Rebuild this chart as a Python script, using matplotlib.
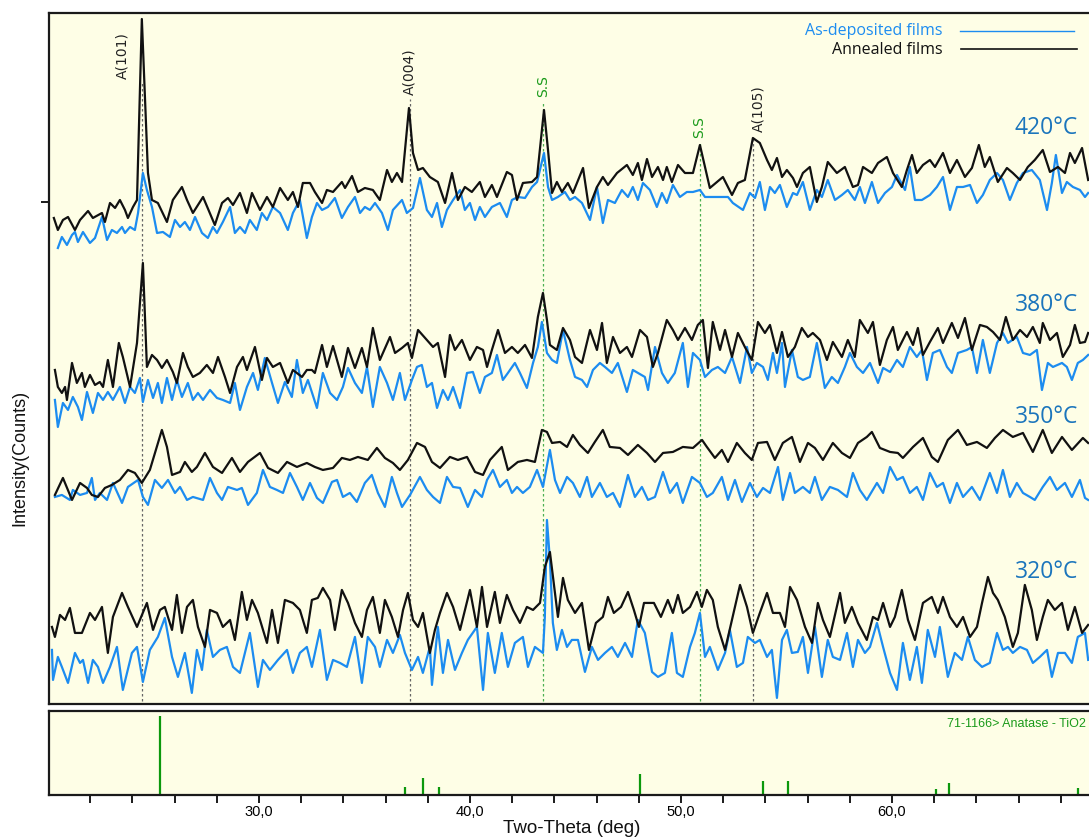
"""XRD patterns of as-deposited and annealed TiO2 films.

Four deposition temperatures, stacked, with the anatase reference card below.
"""

from matplotlib import pyplot
from matplotlib.ticker import FixedLocator, FuncFormatter

# Patterns: two-theta (deg) and stacked intensity (counts).
# 420 C
tt_420_ann = [20.28, 20.47, 20.71, 20.95, 21.28, 21.52, 21.90, 22.13, 22.56, 22.70, 22.94, 23.18, 23.41, 23.65,
              23.79, 24.03, 24.22, 24.45, 24.60, 24.74, 24.93, 25.21, 25.64, 25.92, 26.35, 26.59, 26.87, 27.35,
              27.91, 28.25, 28.53, 28.77, 29.10, 29.43, 29.67, 30.05, 30.38, 30.66, 31.00, 31.37, 31.61, 31.85,
              32.08, 32.42, 32.65, 32.99, 33.22, 33.51, 33.93, 34.08, 34.41, 34.69, 35.02, 35.40, 35.73, 36.07,
              36.30, 36.54, 36.78, 37.11, 37.30, 37.54, 37.77, 38.10, 38.48, 38.82, 39.15, 39.43, 39.76, 40.09,
              40.47, 40.71, 41.04, 41.28, 41.75, 41.99, 42.23, 42.51, 42.94, 43.18, 43.51, 43.70, 43.89, 44.12,
              44.36, 44.64, 44.88, 45.36, 45.64, 46.02, 46.30, 46.54, 46.97, 47.44, 47.72, 47.96, 48.15, 48.39,
              48.63, 48.91, 49.15, 49.33, 49.57, 49.86, 50.19, 50.57, 50.90, 51.14, 51.37, 51.71, 51.99, 52.42,
              52.70, 53.03, 53.41, 53.74, 54.08, 54.31, 54.55, 54.79, 55.02, 55.31, 55.50, 55.78, 56.11, 56.44,
              56.68, 56.96, 57.39, 57.77, 58.15, 58.39, 58.63, 59.05, 59.34, 59.76, 60.05, 60.47, 60.71, 60.95,
              61.18, 61.47, 61.80, 62.04, 62.42, 62.75, 63.08, 63.46, 63.79, 64.12, 64.40, 64.64, 65.02, 65.45,
              65.73, 66.07, 66.44, 66.77, 67.15, 67.49, 67.87, 68.20, 68.44, 68.67, 69.01, 69.30]
i_420_ann = [486, 474, 484, 487, 474, 484, 493, 486, 491, 482, 501, 496, 504, 494,
             486, 497, 504, 685, 604, 531, 504, 501, 482, 504, 517, 504, 491, 507,
             479, 501, 506, 499, 511, 491, 511, 494, 507, 497, 516, 504, 512, 497,
             521, 521, 512, 501, 514, 512, 522, 516, 528, 512, 516, 514, 504, 534,
             522, 531, 522, 596, 551, 534, 536, 527, 522, 501, 531, 504, 517, 512,
             522, 507, 519, 507, 532, 529, 504, 521, 522, 527, 594, 554, 511, 522,
             512, 521, 511, 536, 496, 517, 527, 519, 531, 539, 529, 541, 524, 545,
             527, 537, 524, 537, 522, 539, 531, 531, 559, 537, 516, 522, 527, 509,
             521, 524, 566, 561, 544, 534, 546, 527, 534, 526, 517, 531, 537, 502,
             517, 542, 531, 537, 517, 519, 537, 531, 541, 547, 531, 517, 534, 549,
             531, 539, 544, 537, 551, 531, 544, 527, 536, 559, 537, 547, 522, 536,
             531, 524, 537, 544, 554, 532, 537, 531, 551, 541, 556, 524]
tt_420_dep = [20.47, 20.66, 20.90, 21.14, 21.28, 21.42, 21.66, 21.99, 22.23, 22.56, 22.80, 23.03, 23.27, 23.51,
              23.65, 23.89, 24.12, 24.27, 24.50, 24.69, 24.93, 25.17, 25.45, 25.78, 26.02, 26.26, 26.49, 26.73,
              26.97, 27.30, 27.58, 27.82, 28.01, 28.29, 28.63, 28.86, 29.10, 29.34, 29.57, 29.90, 30.14, 30.38,
              30.66, 31.00, 31.37, 31.61, 31.94, 32.27, 32.51, 32.75, 32.99, 33.27, 33.60, 33.93, 34.22, 34.55,
              34.79, 35.02, 35.26, 35.50, 35.83, 36.11, 36.35, 36.78, 37.01, 37.30, 37.63, 37.96, 38.20, 38.44,
              38.67, 38.91, 39.20, 39.53, 39.76, 40.00, 40.24, 40.47, 40.71, 41.04, 41.42, 41.75, 41.99, 42.27,
              42.61, 42.94, 43.18, 43.51, 43.70, 43.89, 44.17, 44.50, 44.74, 44.98, 45.31, 45.69, 46.02, 46.30,
              46.54, 46.87, 47.20, 47.49, 47.72, 47.96, 48.20, 48.53, 48.86, 49.10, 49.33, 49.62, 49.95, 50.28,
              50.57, 50.90, 51.14, 51.47, 51.85, 52.23, 52.46, 52.94, 53.27, 53.51, 53.74, 53.98, 54.22, 54.45,
              54.69, 55.02, 55.31, 55.50, 55.78, 56.11, 56.44, 56.68, 56.96, 57.30, 57.63, 57.91, 58.24, 58.48,
              58.72, 59.05, 59.34, 59.67, 60.00, 60.24, 60.62, 60.85, 61.09, 61.42, 61.80, 62.13, 62.42, 62.75,
              63.08, 63.37, 63.70, 64.03, 64.31, 64.64, 64.98, 65.26, 65.59, 65.92, 66.21, 66.63, 67.01, 67.35,
              67.58, 67.77, 68.06, 68.29, 68.58, 68.91, 69.15, 69.30]
i_420_dep = [456, 467, 459, 469, 472, 462, 472, 461, 466, 487, 464, 474, 471, 477,
             471, 477, 474, 491, 531, 514, 497, 471, 472, 467, 484, 477, 482, 474,
             487, 471, 466, 477, 471, 482, 497, 471, 477, 471, 484, 474, 491, 484,
             497, 491, 474, 491, 504, 466, 487, 501, 494, 497, 506, 486, 497, 507,
             491, 497, 494, 501, 491, 474, 494, 504, 491, 496, 526, 494, 487, 501,
             477, 494, 504, 514, 494, 501, 484, 497, 487, 497, 501, 487, 504, 507,
             506, 517, 522, 551, 517, 504, 507, 512, 504, 507, 501, 484, 517, 481,
             504, 501, 514, 507, 517, 504, 521, 514, 497, 511, 501, 519, 507, 512,
             512, 514, 507, 507, 507, 507, 501, 494, 511, 506, 522, 494, 517, 511,
             519, 497, 511, 509, 522, 494, 514, 507, 524, 504, 509, 514, 504, 517,
             501, 522, 501, 511, 517, 529, 514, 537, 504, 504, 509, 517, 527, 494,
             517, 517, 519, 501, 509, 524, 531, 524, 504, 521, 531, 534, 524, 494,
             521, 549, 511, 522, 517, 514, 507, 511]

# 380 C
tt_380_ann = [20.33, 20.47, 20.66, 20.81, 20.90, 21.14, 21.37, 21.61, 21.75, 21.99, 22.23, 22.46, 22.61, 22.84,
              23.08, 23.36, 23.55, 23.89, 24.22, 24.50, 24.69, 24.93, 25.17, 25.40, 25.64, 25.92, 26.11, 26.40,
              26.63, 26.87, 27.20, 27.53, 27.82, 28.06, 28.39, 28.63, 28.96, 29.24, 29.43, 29.81, 30.14, 30.38,
              30.66, 31.00, 31.37, 31.61, 32.04, 32.27, 32.51, 32.65, 32.99, 33.22, 33.51, 33.93, 34.22, 34.55,
              34.88, 35.12, 35.40, 35.73, 36.21, 36.45, 36.78, 37.06, 37.25, 37.54, 37.96, 38.25, 38.48, 38.82,
              39.05, 39.29, 39.62, 40.00, 40.33, 40.62, 40.81, 41.04, 41.33, 41.66, 41.99, 42.27, 42.61, 42.94,
              43.22, 43.46, 43.65, 43.79, 44.12, 44.41, 44.74, 44.98, 45.31, 45.69, 46.02, 46.26, 46.49, 46.78,
              47.11, 47.44, 47.68, 48.06, 48.39, 48.67, 48.91, 49.33, 49.62, 49.86, 50.19, 50.52, 50.80, 51.04,
              51.28, 51.51, 51.85, 52.09, 52.42, 52.70, 53.03, 53.36, 53.65, 53.98, 54.22, 54.55, 54.79, 55.07,
              55.40, 55.73, 56.02, 56.25, 56.59, 56.92, 57.20, 57.63, 57.91, 58.24, 58.48, 58.86, 59.10, 59.43,
              59.76, 60.05, 60.28, 60.71, 61.00, 61.23, 61.47, 61.80, 62.18, 62.42, 62.84, 63.13, 63.46, 63.79,
              64.17, 64.50, 64.79, 65.12, 65.40, 65.73, 66.07, 66.40, 66.68, 67.01, 67.15, 67.49, 67.82, 68.10,
              68.44, 68.67, 68.91, 69.15, 69.30]
i_380_ann = [334, 317, 311, 317, 304, 341, 321, 331, 317, 329, 319, 322, 317, 344,
             317, 361, 347, 317, 361, 441, 337, 349, 344, 336, 344, 332, 321, 351,
             337, 327, 331, 339, 331, 347, 327, 311, 337, 347, 334, 357, 324, 346,
             337, 341, 321, 334, 327, 334, 334, 331, 359, 337, 358, 327, 356, 336,
             356, 337, 376, 344, 367, 351, 356, 361, 346, 374, 364, 357, 361, 327,
             369, 354, 364, 344, 357, 354, 337, 354, 374, 351, 357, 351, 359, 346,
             387, 411, 384, 359, 354, 376, 364, 347, 341, 374, 354, 381, 341, 367,
             351, 357, 347, 374, 367, 337, 351, 384, 374, 364, 376, 364, 379, 384,
             336, 382, 354, 374, 347, 371, 357, 344, 382, 371, 379, 351, 372, 347,
             357, 376, 367, 371, 364, 344, 362, 347, 364, 347, 384, 371, 382, 339,
             364, 377, 354, 372, 359, 376, 349, 362, 376, 361, 381, 366, 386, 354,
             379, 377, 372, 364, 387, 364, 374, 367, 377, 361, 381, 364, 371, 347,
             359, 379, 361, 362, 371]
tt_380_dep = [20.33, 20.47, 20.71, 20.95, 21.18, 21.42, 21.61, 21.85, 22.13, 22.37, 22.61, 22.84, 23.08, 23.41,
              23.65, 23.89, 24.12, 24.36, 24.50, 24.74, 24.98, 25.21, 25.40, 25.64, 25.88, 26.11, 26.35, 26.63,
              26.87, 27.11, 27.35, 27.68, 28.01, 28.29, 28.63, 28.86, 29.10, 29.43, 29.72, 29.95, 30.28, 30.62,
              30.90, 31.23, 31.56, 31.80, 32.08, 32.32, 32.75, 33.03, 33.37, 33.70, 33.98, 34.22, 34.55, 34.88,
              35.12, 35.40, 35.73, 36.07, 36.35, 36.68, 36.92, 37.25, 37.49, 37.72, 37.96, 38.20, 38.44, 38.72,
              38.96, 39.20, 39.53, 39.86, 40.14, 40.47, 40.71, 41.04, 41.28, 41.56, 41.80, 42.13, 42.37, 42.70,
              42.99, 43.22, 43.41, 43.65, 43.89, 44.12, 44.41, 44.74, 44.98, 45.31, 45.55, 45.83, 46.16, 46.40,
              46.73, 47.01, 47.44, 47.72, 47.96, 48.29, 48.44, 48.77, 49.10, 49.38, 49.71, 50.09, 50.33, 50.57,
              50.90, 51.14, 51.47, 51.75, 52.09, 52.42, 52.80, 53.13, 53.36, 53.60, 53.89, 54.12, 54.36, 54.55,
              54.79, 54.93, 55.26, 55.54, 55.78, 56.11, 56.44, 56.82, 57.15, 57.44, 57.77, 58.01, 58.34, 58.63,
              58.96, 59.34, 59.58, 59.91, 60.24, 60.52, 60.85, 61.18, 61.42, 61.66, 61.94, 62.27, 62.61, 62.84,
              63.13, 63.55, 63.79, 64.03, 64.31, 64.64, 64.98, 65.26, 65.50, 65.92, 66.21, 66.54, 66.87, 67.11,
              67.39, 67.63, 68.06, 68.29, 68.53, 68.81, 69.05, 69.30]
i_380_dep = [304, 277, 301, 294, 307, 297, 284, 312, 291, 311, 304, 312, 304, 317,
             301, 317, 311, 326, 302, 324, 306, 321, 301, 326, 304, 324, 307, 321,
             304, 311, 304, 314, 306, 304, 301, 321, 294, 317, 331, 314, 346, 321,
             301, 322, 307, 344, 311, 324, 296, 331, 311, 304, 317, 336, 321, 311,
             337, 297, 337, 321, 304, 331, 304, 324, 337, 339, 317, 321, 296, 314,
             304, 317, 296, 331, 332, 311, 327, 331, 349, 324, 331, 341, 331, 316,
             341, 357, 382, 351, 344, 341, 374, 344, 327, 324, 317, 334, 341, 337,
             331, 341, 312, 334, 331, 327, 314, 357, 331, 321, 331, 361, 317, 351,
             344, 327, 334, 337, 331, 347, 321, 357, 331, 341, 337, 324, 351, 331,
             361, 317, 354, 327, 324, 327, 361, 316, 327, 321, 337, 351, 337, 331,
             341, 321, 336, 332, 344, 337, 357, 347, 354, 324, 351, 354, 337, 331,
             351, 354, 357, 331, 364, 331, 361, 371, 361, 367, 351, 349, 354, 314,
             341, 337, 341, 337, 324, 341, 344, 349]

# 350 C
tt_350_ann = [20.33, 20.71, 21.14, 21.52, 21.85, 22.08, 22.37, 22.70, 23.03, 23.41, 23.79, 24.12, 24.45, 24.83,
              25.40, 25.64, 25.88, 26.26, 26.49, 26.82, 27.06, 27.44, 27.82, 28.25, 28.72, 29.10, 29.48, 30.05,
              30.43, 30.90, 31.33, 31.80, 32.27, 32.65, 33.03, 33.51, 33.93, 34.31, 34.69, 35.16, 35.59, 35.97,
              36.35, 36.68, 37.06, 37.49, 37.87, 38.20, 38.58, 39.05, 39.43, 39.86, 40.24, 40.62, 40.95, 41.51,
              41.80, 42.27, 42.70, 43.08, 43.41, 43.65, 43.89, 44.27, 44.60, 44.88, 45.21, 45.59, 45.92, 46.30,
              46.63, 47.11, 47.49, 47.96, 48.39, 48.77, 49.15, 49.62, 50.09, 50.57, 51.00, 51.23, 51.61, 51.94,
              52.23, 52.65, 53.03, 53.36, 53.65, 54.08, 54.45, 54.83, 55.26, 55.64, 56.02, 56.35, 56.73, 57.20,
              57.63, 58.01, 58.39, 58.81, 59.05, 59.43, 59.91, 60.28, 60.52, 61.00, 61.47, 61.89, 62.18, 62.65,
              63.13, 63.55, 64.03, 64.50, 64.88, 65.26, 65.73, 66.21, 66.68, 67.15, 67.58, 68.06, 68.53, 69.05,
              69.30]
i_350_ann = [209, 226, 204, 221, 216, 209, 207, 216, 219, 224, 234, 231, 221, 234,
             274, 257, 229, 232, 242, 232, 237, 251, 237, 231, 246, 232, 242, 251,
             236, 231, 242, 237, 241, 237, 234, 236, 246, 244, 247, 244, 256, 246,
             241, 234, 244, 261, 257, 242, 236, 247, 244, 247, 232, 229, 244, 257,
             234, 242, 244, 242, 274, 272, 261, 262, 257, 269, 259, 251, 262, 274,
             257, 256, 249, 259, 251, 242, 251, 252, 257, 256, 264, 257, 246, 254,
             242, 261, 251, 244, 261, 262, 244, 261, 267, 242, 261, 256, 244, 261,
             251, 246, 261, 267, 272, 256, 252, 251, 246, 257, 266, 247, 242, 264,
             274, 259, 262, 256, 266, 274, 267, 271, 252, 274, 251, 267, 254, 266,
             261]
tt_350_dep = [20.33, 20.66, 21.04, 21.18, 21.52, 21.85, 22.08, 22.23, 22.46, 22.80, 23.08, 23.51, 23.79, 24.27,
              24.50, 24.74, 25.07, 25.40, 25.69, 26.02, 26.26, 26.59, 26.87, 27.35, 27.68, 28.01, 28.25, 28.53,
              28.96, 29.19, 29.48, 29.90, 30.19, 30.52, 30.85, 31.14, 31.47, 31.80, 32.08, 32.42, 32.75, 33.03,
              33.46, 33.70, 33.98, 34.31, 34.64, 35.02, 35.35, 35.64, 35.97, 36.30, 36.54, 36.78, 37.16, 37.63,
              37.96, 38.25, 38.58, 38.91, 39.20, 39.53, 39.90, 40.24, 40.57, 40.81, 41.09, 41.42, 41.75, 41.99,
              42.23, 42.51, 42.84, 43.18, 43.46, 43.79, 44.03, 44.27, 44.60, 44.88, 45.21, 45.55, 45.78, 46.16,
              46.49, 46.78, 47.11, 47.49, 47.82, 48.15, 48.44, 48.77, 49.15, 49.48, 49.81, 50.09, 50.52, 50.90,
              51.23, 51.51, 51.94, 52.23, 52.56, 52.89, 53.27, 53.60, 53.89, 54.22, 54.60, 54.83, 55.17, 55.40,
              55.78, 56.11, 56.35, 56.68, 57.06, 57.44, 57.87, 58.15, 58.48, 58.81, 59.29, 59.58, 59.91, 60.24,
              60.52, 60.85, 61.18, 61.47, 61.80, 62.13, 62.42, 62.75, 63.08, 63.37, 63.79, 64.17, 64.64, 64.98,
              65.26, 65.59, 65.92, 66.21, 66.54, 66.77, 67.15, 67.49, 67.82, 68.20, 68.53, 68.91, 69.15, 69.30]
i_350_dep = [207, 209, 204, 214, 209, 211, 226, 204, 211, 204, 221, 201, 217, 224,
             207, 199, 224, 216, 224, 211, 217, 204, 207, 204, 226, 211, 204, 217,
             214, 216, 199, 211, 234, 217, 214, 211, 231, 217, 204, 221, 206, 201,
             222, 224, 207, 211, 202, 221, 229, 211, 197, 227, 211, 197, 209, 227,
             214, 207, 201, 227, 217, 216, 197, 214, 207, 224, 234, 217, 224, 211,
             217, 211, 217, 234, 217, 254, 224, 211, 227, 221, 207, 227, 207, 221,
             207, 211, 197, 229, 207, 217, 204, 207, 232, 211, 221, 201, 227, 221,
             207, 211, 227, 204, 224, 202, 221, 207, 216, 211, 237, 204, 231, 211,
             217, 211, 227, 204, 217, 214, 207, 231, 214, 204, 221, 211, 237, 224,
             227, 211, 217, 204, 231, 217, 221, 201, 221, 207, 217, 204, 231, 211,
             234, 207, 221, 211, 207, 204, 217, 227, 214, 221, 207, 224, 206, 204]

# 320 C
tt_320_ann = [20.19, 20.33, 20.57, 20.81, 21.04, 21.28, 21.61, 21.99, 22.23, 22.56, 22.84, 23.08, 23.51, 23.79,
              24.22, 24.69, 24.98, 25.31, 25.54, 25.88, 26.11, 26.35, 26.59, 26.87, 27.11, 27.44, 27.68, 28.01,
              28.29, 28.63, 28.86, 29.19, 29.43, 29.67, 29.95, 30.38, 30.62, 30.90, 31.23, 31.61, 31.94, 32.27,
              32.51, 32.79, 33.03, 33.37, 33.60, 33.93, 34.22, 34.55, 34.88, 35.12, 35.40, 35.73, 35.97, 36.30,
              36.59, 36.83, 37.06, 37.30, 37.54, 37.77, 38.10, 38.34, 38.58, 38.91, 39.20, 39.53, 40.00, 40.33,
              40.57, 40.81, 41.18, 41.42, 41.75, 42.04, 42.37, 42.70, 42.99, 43.32, 43.55, 43.79, 44.03, 44.17,
              44.41, 44.64, 44.98, 45.31, 45.64, 45.97, 46.30, 46.54, 46.82, 47.16, 47.49, 47.77, 48.01, 48.25,
              48.72, 49.05, 49.38, 49.62, 49.86, 50.09, 50.43, 50.76, 50.99, 51.23, 51.51, 51.75, 52.09, 52.42,
              52.80, 53.13, 53.41, 53.74, 54.08, 54.36, 54.69, 54.93, 55.17, 55.50, 55.88, 56.21, 56.49, 56.73,
              57.06, 57.54, 57.77, 58.10, 58.39, 58.81, 59.10, 59.34, 59.58, 59.91, 60.14, 60.47, 60.76, 61.09,
              61.47, 61.89, 62.18, 62.42, 62.75, 63.08, 63.37, 63.70, 64.03, 64.27, 64.55, 64.79, 65.02, 65.35,
              65.73, 65.97, 66.30, 66.63, 66.87, 67.15, 67.39, 67.72, 68.06, 68.34, 68.67, 69.01, 69.30]
i_320_ann = [77, 67, 89, 84, 96, 71, 71, 91, 84, 97, 51, 87, 111, 97,
             77, 101, 74, 94, 97, 74, 109, 71, 97, 104, 77, 57, 94, 91,
             77, 84, 64, 112, 84, 104, 91, 61, 94, 61, 104, 101, 94, 71,
             104, 106, 116, 104, 74, 114, 101, 81, 67, 94, 107, 71, 104, 87,
             67, 94, 111, 84, 77, 91, 51, 74, 91, 111, 97, 74, 114, 77,
             117, 77, 112, 81, 109, 94, 81, 97, 94, 101, 137, 152, 111, 87,
             126, 104, 91, 101, 54, 81, 87, 107, 91, 97, 112, 94, 77, 101,
             101, 87, 104, 91, 109, 91, 97, 112, 97, 114, 104, 77, 54, 84,
             119, 97, 71, 91, 111, 91, 91, 77, 117, 104, 77, 61, 101, 84,
             67, 111, 81, 97, 81, 64, 87, 84, 101, 77, 87, 114, 84, 64,
             101, 107, 91, 107, 87, 77, 87, 67, 77, 101, 127, 111, 104, 87,
             57, 71, 119, 94, 64, 87, 104, 94, 101, 74, 97, 71, 79]
tt_320_dep = [20.19, 20.24, 20.47, 20.66, 20.95, 21.28, 21.52, 21.66, 21.90, 22.13, 22.37, 22.61, 22.94, 23.27,
              23.55, 23.98, 24.22, 24.50, 24.83, 25.21, 25.54, 25.88, 26.16, 26.49, 26.82, 27.06, 27.30, 27.53,
              27.82, 28.15, 28.48, 28.77, 29.10, 29.57, 29.95, 30.19, 30.52, 30.90, 31.33, 31.61, 31.94, 32.27,
              32.51, 32.89, 33.22, 33.51, 33.84, 34.17, 34.55, 34.88, 35.16, 35.50, 35.73, 36.07, 36.35, 36.68,
              36.92, 37.25, 37.54, 37.77, 38.10, 38.20, 38.48, 38.72, 38.96, 39.29, 39.62, 39.90, 40.33, 40.62,
              40.85, 41.18, 41.51, 41.80, 42.13, 42.51, 42.75, 43.08, 43.46, 43.55, 43.65, 43.79, 43.93, 44.12,
              44.36, 44.60, 44.83, 45.12, 45.45, 45.78, 46.07, 46.40, 46.73, 47.01, 47.35, 47.68, 47.96, 48.29,
              48.63, 48.91, 49.24, 49.57, 49.81, 50.09, 50.43, 50.66, 50.90, 51.14, 51.37, 51.75, 52.09, 52.32,
              52.65, 52.94, 53.17, 53.51, 53.74, 54.08, 54.31, 54.55, 54.79, 55.02, 55.26, 55.54, 55.78, 56.02,
              56.35, 56.68, 56.96, 57.20, 57.54, 57.87, 58.15, 58.39, 58.72, 58.96, 59.29, 59.58, 59.91, 60.24,
              60.52, 60.85, 61.18, 61.42, 61.70, 62.04, 62.27, 62.65, 62.98, 63.32, 63.60, 63.93, 64.27, 64.64,
              64.98, 65.26, 65.50, 65.73, 66.07, 66.40, 66.68, 67.01, 67.35, 67.58, 67.87, 68.20, 68.53, 68.81,
              69.15, 69.30]
i_320_dep = [54, 24, 47, 37, 21, 51, 41, 44, 21, 44, 37, 21, 37, 57,
             14, 51, 57, 22, 54, 67, 86, 47, 27, 51, 11, 54, 34, 74,
             47, 54, 57, 37, 31, 71, 17, 44, 34, 44, 54, 31, 51, 57,
             37, 74, 24, 44, 41, 37, 67, 21, 67, 57, 37, 64, 51, 69,
             51, 34, 47, 31, 57, 19, 77, 31, 64, 34, 51, 64, 77, 14,
             71, 31, 71, 37, 61, 67, 37, 57, 51, 87, 184, 144, 81, 54,
             74, 57, 64, 64, 32, 57, 44, 51, 57, 47, 61, 47, 84, 71,
             32, 27, 31, 71, 31, 27, 57, 71, 91, 47, 57, 34, 51, 74,
             37, 41, 67, 61, 64, 47, 54, 6, 64, 74, 51, 52, 67, 31,
             77, 27, 64, 47, 44, 71, 37, 64, 51, 57, 81, 57, 31, 14,
             61, 24, 57, 21, 74, 47, 77, 27, 51, 44, 67, 44, 37, 41,
             71, 54, 57, 51, 57, 54, 41, 47, 54, 27, 51, 51, 41, 67,
             71, 44]

temp_labels = ['420°C', '380°C', '350°C', '320°C']
temp_label_y = [576, 399, 287, 132]

# Marked reflections: label, line position, label position, label base
peak_names = ['A(101)', 'A(004)', 'S.S', 'S.S', 'A(105)']
peak_tt = [24.45, 37.16, 43.46, 50.90, 53.41]
peak_label_tt = [23.55, 37.11, 43.46, 50.85, 53.65]
peak_label_y = [625, 609, 607, 566, 572]
peak_is_substrate = [False, False, True, True, False]

# 71-1166 anatase TiO2 reference card
ref_tt = [25.33, 36.90, 37.76, 38.55, 48.05, 53.90, 55.07, 62.10, 62.69, 68.84]
ref_int = [100, 10, 21, 10, 27, 18, 18, 7, 15, 9]

BLUE = '#1c8cf0'
BLACK = '#111111'
GREEN = '#0c980c'
PANEL = '#fefee6'
XLIM = (20.05, 69.34)

fig = pyplot.figure(figsize=(10.89, 8.39), dpi=100)
ax = fig.add_axes([0.045, 0.161, 0.955, 0.8235])
ax2 = fig.add_axes([0.045, 0.0524, 0.955, 0.1001])

for a in (ax, ax2):
    a.set_facecolor(PANEL)
    a.set_xlim(*XLIM)
    a.spines['right'].set_visible(False)
    for side in ('top', 'left', 'bottom'):
        a.spines[side].set_linewidth(1.6)
        a.spines[side].set_color('#1a1a1a')

# Stacked patterns.
patterns = [(tt_420_dep, i_420_dep, tt_420_ann, i_420_ann),
            (tt_380_dep, i_380_dep, tt_380_ann, i_380_ann),
            (tt_350_dep, i_350_dep, tt_350_ann, i_350_ann),
            (tt_320_dep, i_320_dep, tt_320_ann, i_320_ann)]
for tt_dep, i_dep, tt_ann, i_ann in patterns:
    ax.plot(tt_dep, i_dep, color=BLUE, lw=1.6, zorder=3, solid_joinstyle='round')
    ax.plot(tt_ann, i_ann, color=BLACK, lw=1.6, zorder=4, solid_joinstyle='round')

for label, y in zip(temp_labels, temp_label_y):
    ax.text(68.81, y, label, ha='right', va='center', fontsize=16.5,
            family='Open Sans', color='#1b75bc', zorder=5)

# Reflection markers.
for name, tt, tt_lab, y_lab, sub in zip(peak_names, peak_tt, peak_label_tt,
                                        peak_label_y, peak_is_substrate):
    col = '#4caf50' if sub else '#666666'
    ax.vlines(tt, 3, y_lab - 4, colors=col, linestyles=(0, (2, 2)), lw=0.9, zorder=1)
    ax.text(tt_lab, y_lab, name, rotation=90, ha='center', va='bottom',
            fontsize=10, color='#1a9a1a' if sub else '#222222')

ax.set_ylim(0, 691)
ax.set_xticks([])
ax.set_yticks([502])
ax.set_yticklabels([''])
ax.tick_params(axis='y', direction='out', length=6, width=1.4, color='#1a1a1a')

# Legend drawn as in the original: text, then a line sample on the right.
legend_font = dict(family='Open Sans', fontsize=11.5, ha='right', va='center',
                   transform=ax.transAxes)
ax.text(0.859, 0.974, 'As-deposited films', color=BLUE, **legend_font)
ax.text(0.859, 0.946, 'Annealed films', color=BLACK, **legend_font)
ax.plot([0.876, 0.986], [0.974, 0.974], color=BLUE, lw=1.0, transform=ax.transAxes)
ax.plot([0.877, 0.988], [0.948, 0.948], color=BLACK, lw=1.2, transform=ax.transAxes)

# Reference card panel.
ax2.vlines(ref_tt, 0, ref_int, colors=GREEN, lw=1.6)
ax2.set_ylim(0, 106)
ax2.set_yticks([])
ax2.xaxis.set_major_locator(FixedLocator(list(range(22, 70, 2))))
ax2.xaxis.set_major_formatter(FuncFormatter(
    lambda v, pos: f'{v:.1f}'.replace('.', ',') if round(v) % 10 == 0 else ''))
ax2.tick_params(axis='x', direction='out', length=5.5, width=1.4, pad=2,
                labelsize=10.5, color='#1a1a1a')
for t in ax2.get_xticklabels():
    t.set_family('Liberation Sans')
ax2.text(0.997, 0.85, '71-1166> Anatase - TiO2', transform=ax2.transAxes,
         ha='right', va='center', fontsize=9, family='Liberation Sans', color='#1a9a1a')

fig.text(0.0184, 0.454, 'Intensity(Counts)', rotation=90, ha='center', va='center',
         fontsize=13, family='Liberation Sans', color='#111111')
fig.text(0.525, 0.0131, 'Two-Theta (deg)', ha='center', va='center',
         fontsize=13.5, family='Liberation Sans', color='#111111')

fig.savefig('out.png', dpi=100)
